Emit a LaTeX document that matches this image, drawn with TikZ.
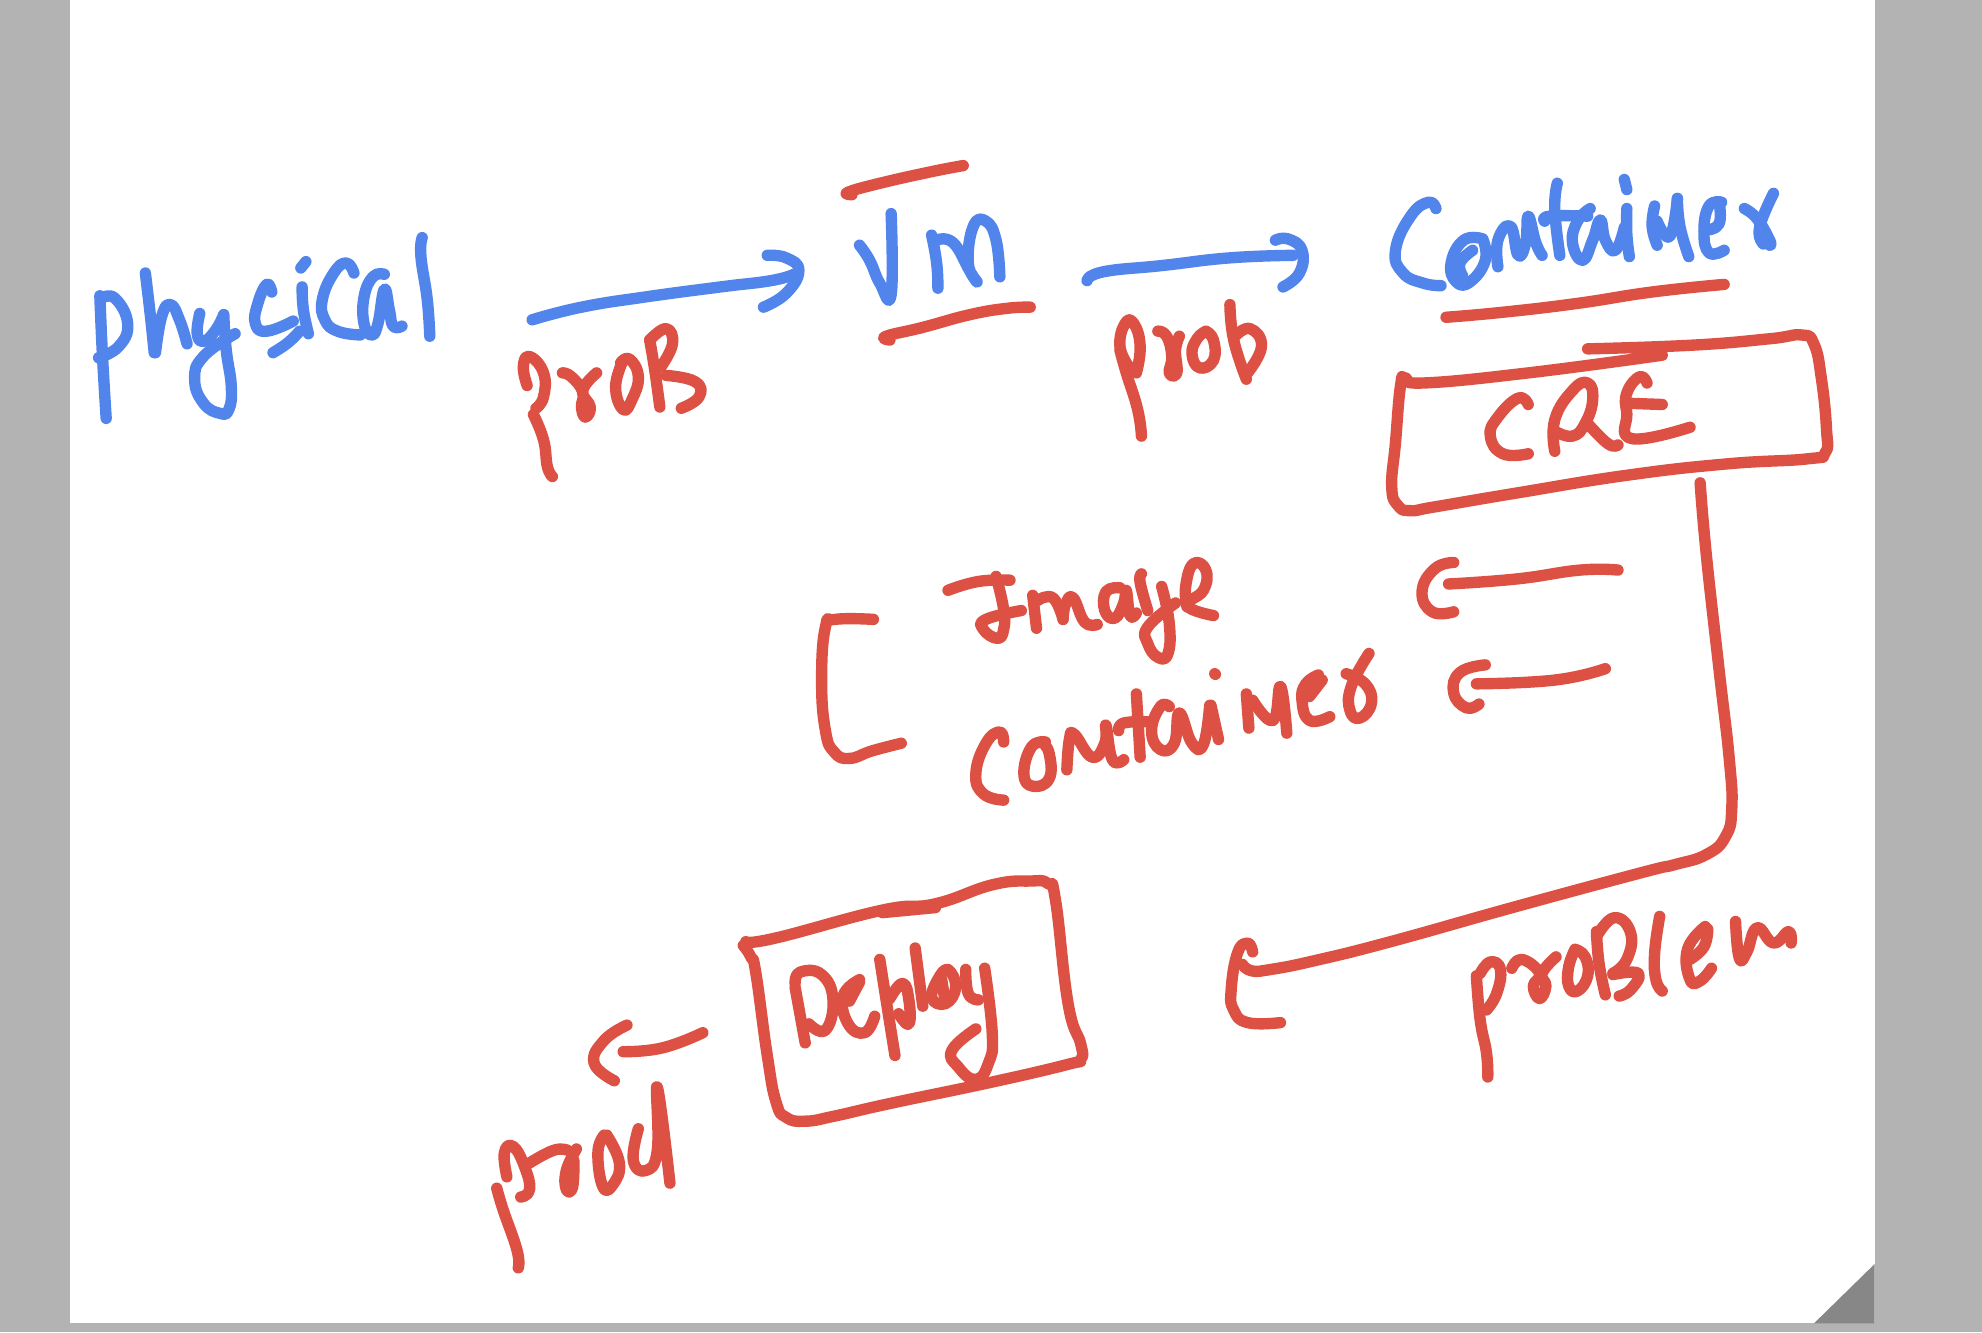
\documentclass[tikz,border=0pt]{standalone}
\definecolor{inkblue}{HTML}{5285EC}
\definecolor{inkred}{HTML}{DD5044}
\definecolor{margin}{HTML}{B3B3B3}
\definecolor{foldc}{HTML}{878787}
\tikzset{
  pen/.style={line width=9pt,line cap=round,line join=round},
  bluepen/.style={pen,draw=inkblue},
  redpen/.style={pen,draw=inkred}
}
\newcommand{\inkb}[1]{\draw[bluepen] plot[smooth,tension=0.8] coordinates {#1};}
\newcommand{\inkr}[1]{\draw[redpen] plot[smooth,tension=0.8] coordinates {#1};}
\begin{document}
\begin{tikzpicture}[x=1pt,y=-1pt]
\useasboundingbox (0,0) rectangle (1568,1054);
\fill[margin] (0,0) rectangle (1568,1054);
\fill[white] (55,0) rectangle (1483,1047);
\fill[foldc] (1435,1047) -- (1483,1000) -- (1483,1047) -- cycle;
% physical
\inkb{(79,234)(81,280)(84,331)}
\inkb{(80,236)(91,236)(101,256)(94,274)(78,283)}
\inkb{(115,216)(119,250)(122,279)}
\inkb{(123,279)(128,250)(135,241)(142,253)(148,272)}
\inkb{(158,248)(156,264)(161,270)(170,262)(177,249)}
\inkb{(177,249)(179,277)(183,306)(181,324)(174,327)(161,319)(154,300)(161,282)(186,264)}
\inkb{(215,231)(211,225)(204,240)(202,256)(211,262)(232,254)}
\inkb{(237,262)(228,271)(216,279)}
\inkb{(239,227)(240,245)(244,264)}
\inkb{(242,207)(238,212)}
\inkb{(280,216)(274,208)(264,216)(255,237)(257,253)(267,262)(285,265)}
\inkb{(304,217)(295,219)(288,235)(288,256)(294,265)(299,256)(304,229)(308,245)(311,258)(318,258)}
\inkb{(334,188)(333,203)(338,237)(340,266)}
% arrow 1
\inkb{(421,253)(460,243)(510,235)(570,227)(610,222)(628,217)}
\inkb{(607,202)(622,204)(632,214)(622,232)(604,243)}
% prob 1
\inkr{(417,305)(414,290)(419,282)(430,295)(430,314)(424,323)}
\inkr{(422,328)(430,348)(433,369)(437,377)}
\inkr{(445,295)(452,298)(461,310)(460,322)(463,330)(467,322)(461,309)(472,295)}
\inkr{(493,285)(487,306)(493,324)(500,316)(505,298)(498,284)(491,287)}
\inkr{(514,269)(518,293)(522,322)}
\inkr{(514,269)(527,260)(532,272)(523,290)}
\inkr{(527,297)(550,302)(553,314)(539,323)}
% Vm
\inkr{(674,154)(671,152)(696,145)(736,136)(762,131)}
\inkb{(680,194)(688,206)(696,224)(705,233)(705,169)}
\inkb{(737,186)(741,208)(742,228)}
\inkb{(741,190)(754,192)(767,214)(773,223)(766,208)(770,179)(780,175)(788,190)(791,219)}
\inkr{(704,269)(701,266)(730,259)(767,249)(796,244)(815,243)}
% arrow 2
\inkb{(860,222)(873,215)(920,210)(973,204)(1023,202)}
\inkb{(1009,190)(1019,189)(1030,198)(1028,216)(1015,227)}
% prob 2
\inkr{(893,290)(886,274)(890,256)(897,256)(902,274)(899,295)}
\inkr{(886,277)(891,295)(900,324)(903,345)}
\inkr{(916,262)(923,266)(927,282)(925,295)(931,295)(930,277)(933,266)}
\inkr{(954,262)(947,268)(943,280)(949,291)(960,285)(960,269)(954,262)}
\inkr{(973,241)(976,269)(986,300)}
\inkr{(977,266)(989,260)(998,274)(987,295)}
% Container
\inkb{(1136,165)(1130,160)(1116,171)(1104,198)(1110,216)(1126,224)(1140,226)}
\inkb{(1173,189)(1158,190)(1148,208)(1152,223)(1163,223)(1175,206)(1173,189)}
\inkb{(1165,198)(1155,208)(1157,218)}
\inkb{(1185,211)(1185,190)(1195,179)(1201,202)(1207,192)(1209,171)(1215,192)(1220,202)}
\inkb{(1232,145)(1230,166)(1234,202)}
\inkb{(1222,175)(1226,171)(1256,171)}
\inkb{(1258,165)(1248,175)(1244,192)(1252,206)(1260,190)(1266,174)(1270,190)(1278,198)(1285,180)}
\inkb{(1287,165)(1287,185)(1289,203)}
\inkb{(1285,142)(1287,150)}
\inkb{(1309,163)(1307,179)(1311,194)}
\inkb{(1311,175)(1321,187)(1327,157)}
\inkb{(1327,157)(1329,179)(1336,203)}
\inkb{(1362,160)(1352,163)(1348,183)(1352,200)(1364,198)}
\inkb{(1360,160)(1360,177)(1350,182)}
\inkb{(1380,165)(1390,173)(1400,190)(1400,194)}
\inkb{(1403,153)(1392,180)(1395,193)}
\inkr{(1144,251)(1189,247)(1248,240)(1307,231)(1364,225)}
% CRE box
\inkr{(1256,276)(1340,273)(1400,268)(1425,265)(1435,272)(1441,300)(1445,340)(1444,358)(1430,363)(1366,367)(1287,376)(1200,390)(1135,401)(1116,404)(1106,400)(1101,385)(1104,350)(1108,305)(1112,299)(1126,303)(1209,295)(1315,281)}
\inkr{(1209,320)(1201,315)(1185,330)(1179,345)(1189,359)(1209,359)}
\inkr{(1230,357)(1230,332)(1244,309)(1256,303)(1260,316)(1254,335)(1244,345)(1230,341)}
\inkr{(1256,335)(1272,351)(1280,352)}
\inkr{(1303,303)(1297,298)(1287,311)(1287,327)(1291,347)(1337,338)}
\inkr{(1287,319)(1315,320)}
% connector to problem
\inkr{(1345,382)(1350,440)(1360,530)(1368,600)(1370,640)(1365,662)(1350,676)(1325,684)(1300,690)(1200,717)(1100,745)(1040,760)(1005,767)(990,768)(983,763)}
\inkr{(991,753)(987,746)(979,754)(974,783)(976,799)(987,809)(1013,809)}
% problem
\inkr{(1168,772)(1171,807)(1176,833)(1177,852)}
\inkr{(1171,770)(1179,761)(1187,767)(1184,786)(1176,799)}
\inkr{(1196,766)(1204,759)(1218,770)(1213,780)(1218,790)(1223,780)(1220,770)(1231,757)}
\inkr{(1246,751)(1241,765)(1241,780)(1248,784)(1256,772)(1254,757)(1246,751)}
\inkr{(1263,737)(1265,762)(1270,787)}
\inkr{(1263,741)(1277,726)(1290,738)(1287,759)(1276,770)}
\inkr{(1276,771)(1296,770)(1290,783)(1281,788)}
\inkr{(1313,725)(1309,754)(1310,775)(1315,784)}
\inkr{(1349,733)(1335,751)(1337,775)(1345,776)(1354,766)}
\inkr{(1351,735)(1348,749)(1337,759)}
\inkr{(1373,729)(1376,758)(1382,753)(1390,734)(1403,746)(1415,737)(1417,746)}
% bracket
\inkr{(691,490)(661,490)(653,496)(650,538)(653,578)(660,595)(672,600)(690,594)(713,588)}
% Image
\inkr{(750,467)(774,460)(799,459)}
\inkr{(788,456)(794,482)(794,498)(789,505)(778,498)(780,490)(808,483)}
\inkr{(817,471)(820,497)}
\inkr{(821,475)(833,473)(841,490)}
\inkr{(841,490)(843,478)(849,473)(858,492)(868,494)}
\inkr{(886,465)(875,468)(874,483)(882,489)(889,477)(891,467)(894,487)(899,485)}
\inkr{(903,454)(902,461)(908,483)}
\inkr{(919,464)(925,493)(924,517)(916,520)(908,509)(908,496)(930,477)}
\inkr{(939,480)(938,464)(944,446)(954,451)(952,467)(939,479)(960,487)}
% Containers
\inkr{(794,587)(791,579)(780,588)(772,612)(778,628)(794,633)}
\inkr{(827,587)(816,591)(810,612)(817,622)(830,616)(830,596)(824,587)}
\inkr{(844,609)(846,585)(850,581)(864,599)(874,588)(875,574)(880,601)(889,601)}
\inkr{(899,549)(902,599)}
\inkr{(885,578)(889,572)(908,571)}
\inkr{(925,559)(918,559)(911,578)(918,593)(929,588)(933,564)(943,588)(952,589)(957,558)}
\inkr{(958,558)(964,585)}
\inkr{(961,533)(961.5,533.5)}
\inkr{(986,549)(988,576)}
\inkr{(991,554)(1007,570)(1013,543)(1018,580)}
\inkr{(1043,534)(1033,541)(1030,554)(1036,570)(1052,567)}
\inkr{(1046,538)(1036,551)}
\inkr{(1065,533)(1080,541)(1085,556)(1076,568)(1068,562)(1069,543)(1083,517)}
% right brackets
\inkr{(1150,445)(1135,450)(1125,468)(1133,484)(1150,484)}
\inkr{(1146,462)(1200,458)(1250,451)(1280,451)}
\inkr{(1175,526)(1155,532)(1150,548)(1160,560)(1170,557)}
\inkr{(1168,541)(1230,538)(1270,529)}
% Deploy box
\inkr{(590,745)(614,742)(698,720)(740,715)(785,700)(815,697)(829,699)(835,712)(845,794)(855,826)(855,838)(845,842)(785,856)(704,873)(660,883)(637,887)(622,884)(614,872)(607,835)(598,770)(594,757)(588,748)}
\inkr{(698,722)(740,718)}
\inkr{(629,781)(637,825)}
\inkr{(629,778)(633,769)(650,771)(659,791)(653,815)(640,810)}
\inkr{(680,775)(667,788)(671,810)(684,817)(692,804)}
\inkr{(680,777)(672,792)}
\inkr{(696,759)(701,791)(708,835)}
\inkr{(704,790)(714,778)(719,791)(719,810)(711,802)}
\inkr{(724,750)(730,796)}
\inkr{(743,773)(737,789)(748,794)(756,781)(750,767)(743,773)}
\inkr{(745,775)(747,788)}
\inkr{(764,767)(766,786)(774,791)}
\inkr{(779,766)(785,818)(782,841)(772,854)(758,844)(753,831)(772,814)}
% arrow to prod
\inkr{(493,832)(524,829)(556,817)}
\inkr{(496,811)(478,823)(470,841)(486,855)}
% prod
\inkr{(393,940)(398,957)(409,989)(410,1003)}
\inkr{(401,931)(399,912)(406,907)(415,923)(419,941)(412,947)}
\inkr{(419,920)(438,910)(449,910)}
\inkr{(456,909)(448,926)(448,941)(453,939)(454,918)}
\inkr{(478,898)(473,912)(477,939)(485,937)(490,920)(480,898)}
\inkr{(505,893)(501,918)(511,926)(520,910)(520,860)(530,936)}
\end{tikzpicture}
\end{document}
